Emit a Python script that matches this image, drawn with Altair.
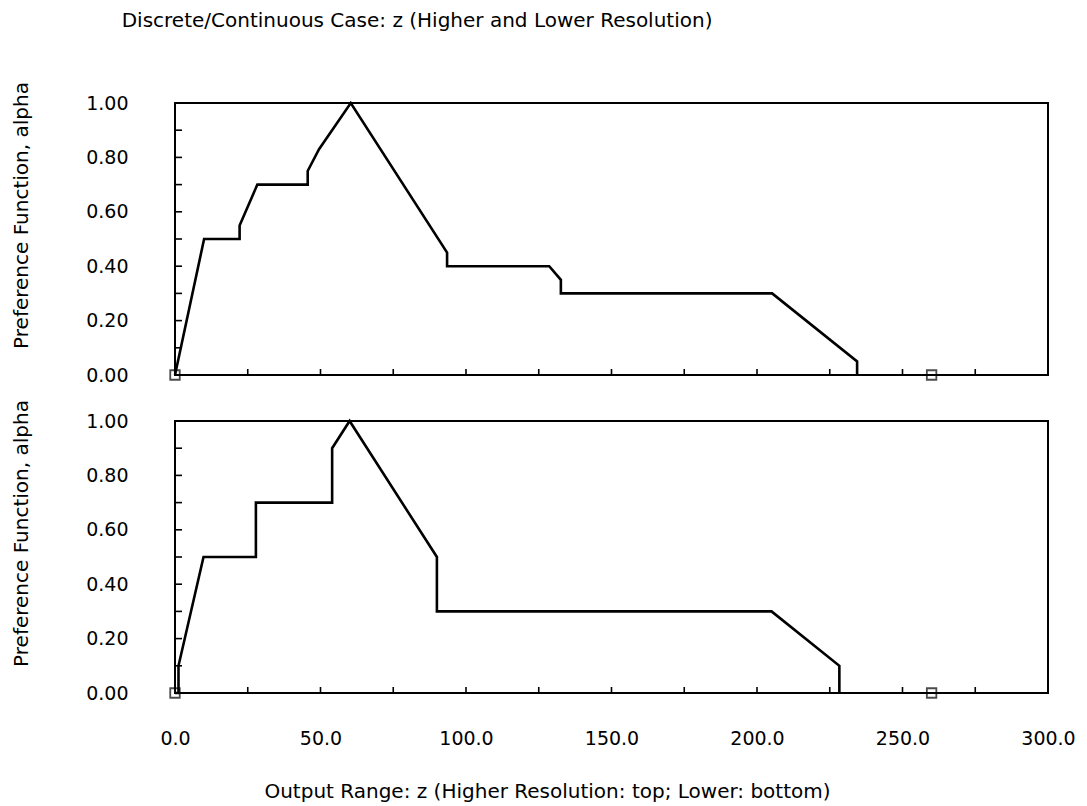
import altair as alt
import pandas as pd

# Higher resolution (top panel)
z_hi = [0, 10.0, 22.2, 22.2, 28.3, 45.6, 45.6, 49.5, 60.4, 93.5, 93.5, 128.6, 132.6, 132.6, 205.2, 234.4, 234.4]
a_hi = [0, 0.50, 0.50, 0.55, 0.70, 0.70, 0.75, 0.83, 1.00, 0.45, 0.40, 0.40, 0.35, 0.30, 0.30, 0.05, 0]

# Lower resolution (bottom panel)
z_lo = [0, 1.2, 1.2, 9.8, 27.8, 27.8, 54.0, 54.0, 60.0, 90.0, 90.0, 205.0, 228.3, 228.3]
a_lo = [0, 0, 0.10, 0.50, 0.50, 0.70, 0.70, 0.90, 1.00, 0.50, 0.30, 0.30, 0.10, 0]

# Range end markers
marker_z = [0, 260]
marker_a = [0, 0]

x_label_values = [0, 50, 100, 150, 200, 250, 300]
x_minor = [25, 50, 75, 100, 125, 150, 175, 200, 225, 250, 275]
y_label_values = [0, 0.2, 0.4, 0.6, 0.8, 1.0]
y_minor = [0.1, 0.2, 0.3, 0.4, 0.5, 0.6, 0.7, 0.8, 0.9]

FONT = "DejaVu Sans"
W, H = 873, 272

xscale = alt.Scale(domain=[0, 300], nice=False, zero=False)
yscale = alt.Scale(domain=[0, 1], nice=False)

yaxis = alt.Axis(values=y_label_values, format=".2f", title="Preference Function, alpha",
                 labelFontSize=19, labelPadding=47, labelFlush=False,
                 titleFontSize=20, titleFontWeight="normal", titlePadding=54, titleY=112,
                 labelFont=FONT, titleFont=FONT, labelColor="black", titleColor="black")


def panel(z, a, show_x):
    df = pd.DataFrame({"z": z, "a": a, "i": list(range(len(z)))})
    if show_x:
        xaxis = alt.Axis(values=x_label_values, format=".1f",
                         title="Output Range: z (Higher Resolution: top; Lower: bottom)",
                         labelFontSize=19, labelPadding=36, labelFlush=False,
                         titleFontSize=20, titleFontWeight="normal",
                         titleX=372, titleY=104, titleBaseline="alphabetic",
                         labelFont=FONT, titleFont=FONT,
                         labelColor="black", titleColor="black")
    else:
        xaxis = None
    line = alt.Chart(df).mark_line(color="black", strokeWidth=2.6).encode(
        x=alt.X("z:Q", scale=xscale, axis=xaxis),
        y=alt.Y("a:Q", scale=yscale, axis=yaxis),
        order=alt.Order("i:Q"),
    )
    mk = alt.Chart(pd.DataFrame({"z": marker_z, "a": marker_a})).mark_point(
        shape="square", filled=False, color="black", size=90, strokeWidth=1.8
    ).encode(x=alt.X("z:Q", scale=xscale, axis=xaxis), y=alt.Y("a:Q", scale=yscale, axis=yaxis))
    xt = alt.Chart(pd.DataFrame({"t": x_minor})).mark_rule(color="black", strokeWidth=1.6).encode(
        x=alt.X("t:Q", scale=xscale, axis=xaxis), y=alt.value(H), y2=alt.value(H - 6)
    )
    yt = alt.Chart(pd.DataFrame({"t": y_minor})).mark_rule(color="black", strokeWidth=1.6).encode(
        y=alt.Y("t:Q", scale=yscale, axis=yaxis), x=alt.value(0), x2=alt.value(7)
    )
    return alt.layer(line, mk, xt, yt).properties(width=W, height=H)


top = panel(z_hi, a_hi, False)
bottom = panel(z_lo, a_lo, True)

chart = alt.vconcat(top, bottom, spacing=46, bounds="flush").properties(
    title=alt.TitleParams("Discrete/Continuous Case: z (Higher and Lower Resolution)",
                          anchor="start", fontSize=20, fontWeight="normal", font=FONT,
                          color="black", offset=50, dx=111),
    padding={"left": 10, "top": 10, "right": 10, "bottom": 2},
    background="white",
).configure_view(stroke="black", strokeWidth=2).configure_axis(
    domain=False, ticks=False, grid=False
)

chart.save("out.html", embed_options={"renderer": "svg", "actions": False})
